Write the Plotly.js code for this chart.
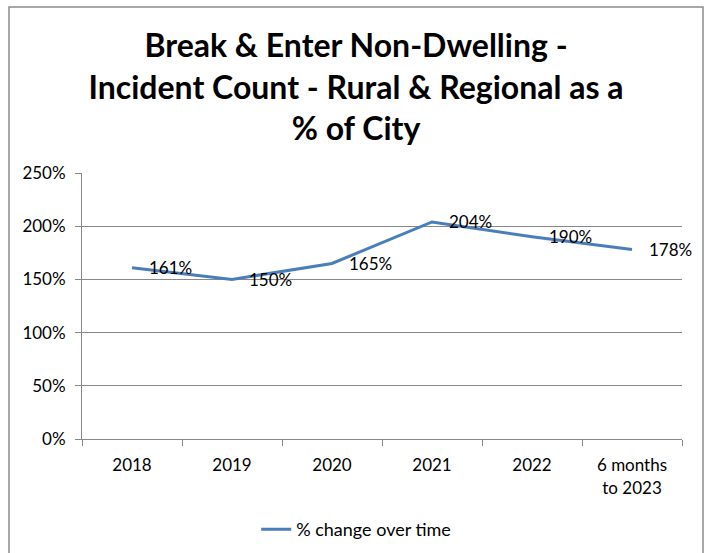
<!DOCTYPE html>
<html>
<head>
<meta charset="utf-8">
<script src="https://cdn.plot.ly/plotly-3.0.1.min.js"></script>
<style>
html,body{margin:0;padding:0;background:#fff;}
#chart{width:712px;height:553px;}
</style>
</head>
<body>
<div id="chart"></div>
<script>
var categories = ["2018", "2019", "2020", "2021", "2022", "6 months<br>to 2023"];
var values = [1.61, 1.50, 1.65, 2.04, 1.90, 1.78];
var valueLabels = ["161%", "150%", "165%", "204%", "190%", "178%"];
var yTickValues = [0, 0.5, 1, 1.5, 2, 2.5];
var yTickLabels = ["0%", "50%", "100%", "150%", "200%", "250%"];
var seriesName = "% change over time";
var titleText = "Break & Enter Non-Dwelling -<br>Incident Count - Rural & Regional as a<br>% of City";

var FONT = "Lato, 'Open Sans', sans-serif";
var lineColor = "#4a7ebb";

var trace = {
  x: categories,
  y: values,
  type: "scatter",
  mode: "lines",
  name: seriesName,
  line: {color: lineColor, width: 3},
  hoverinfo: "skip"
};

var annotations = values.map(function (v, i) {
  return {
    x: i, y: v, xref: "x", yref: "y",
    text: valueLabels[i], showarrow: false,
    xanchor: "left", yanchor: "middle", xshift: 15,
    font: {family: FONT, size: 17, color: "#000"}
  };
});

var layout = {
  width: 712, height: 553,
  margin: {l: 82, r: 30, t: 173, b: 114, autoexpand: false},
  paper_bgcolor: "#fff", plot_bgcolor: "#fff",
  font: {family: FONT, size: 17, color: "#000"},
  title: {
    text: titleText,
    font: {family: FONT, size: 32, color: "#000", weight: "bold"},
    x: 0.5, xref: "container", xanchor: "center",
    y: 1 - 57 / 553, yref: "container", yanchor: "top",
    automargin: false
  },
  xaxis: {
    type: "category",
    categoryorder: "array", categoryarray: categories,
    range: [-0.5, categories.length - 0.5],
    tickson: "boundaries",
    ticks: "outside", ticklen: 6, tickcolor: "#888", tickwidth: 1,
    showline: true, linecolor: "#888", linewidth: 1,
    showgrid: false, zeroline: false,
    tickfont: {family: FONT, size: 17, color: "#000"},
    ticklabelstandoff: 11,
    automargin: false,
    fixedrange: true
  },
  yaxis: {
    range: [0, 2.5],
    tickvals: yTickValues, ticktext: yTickLabels,
    ticks: "outside", ticklen: 6, tickcolor: "#888",
    showline: true, linecolor: "#888", linewidth: 1,
    showgrid: true, gridcolor: "#888", gridwidth: 1,
    zeroline: false,
    tickfont: {family: FONT, size: 17, color: "#000"},
    ticklabelstandoff: 6,
    automargin: false,
    fixedrange: true
  },
  showlegend: true,
  legend: {
    orientation: "h",
    x: 0.457, xanchor: "center",
    y: -0.271, yanchor: "top",
    font: {family: FONT, size: 18, color: "#000"}
  },
  annotations: annotations,
  shapes: [{
    type: "rect", xref: "paper", yref: "paper",
    x0: (9 - 82) / 600, x1: (703 - 82) / 600,
    y0: (439 - 600) / 266, y1: (439 - 7) / 266,
    line: {color: "#8c8c8c", width: 1.5}, fillcolor: "rgba(0,0,0,0)",
    layer: "below"
  }]
};

Plotly.newPlot("chart", [trace], layout, {displayModeBar: false, staticPlot: true});
</script>
</body>
</html>
